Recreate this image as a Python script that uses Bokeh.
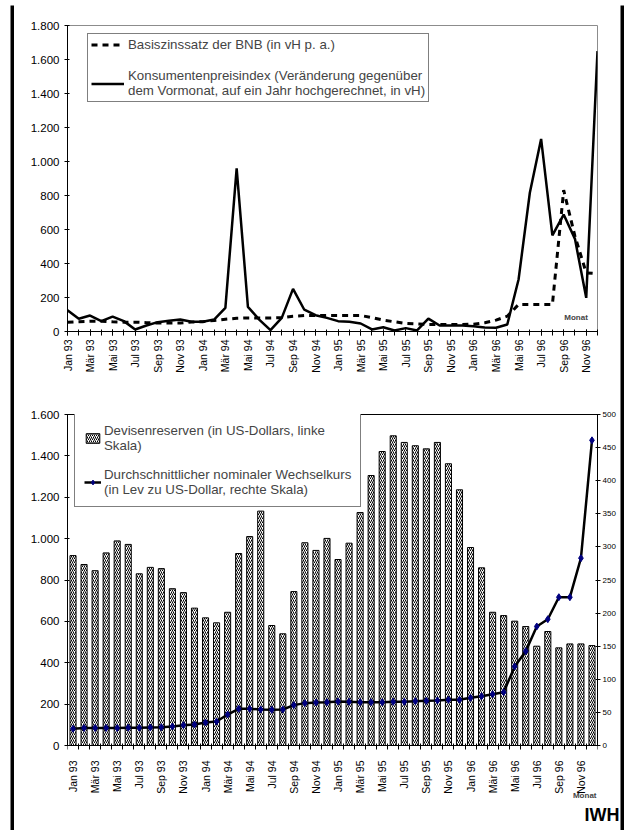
from math import pi
from bokeh.plotting import figure
from bokeh.models import (FixedTicker, Range1d, LinearAxis, Legend, LegendItem, Label, Spacer, Title)
from bokeh.layouts import column, row
from bokeh.embed import file_html
from bokeh.resources import INLINE

# ---------------- data ----------------
months = ["Jan", "Feb", "Mär", "Apr", "Mai", "Jun", "Jul", "Aug", "Sep", "Okt", "Nov", "Dez"]
years = ["93", "94", "95", "96"]
month_labels = [f"{m} {y}" for y in years for m in months]

# upper chart (vH)
bnb_rate = [55, 58, 60, 60, 57, 55, 55, 52, 50, 50, 50, 56,
            58, 65, 72, 78, 80, 80, 80, 82, 90, 94, 94, 94,
            94, 94, 94, 82, 67, 57, 47, 44, 41, 41, 41, 41,
            43, 51, 67, 90, 159, 159, 159, 159, 831, 561, 345, 340]
cpi_rate = [125, 75, 94, 61, 88, 61, 12, 35, 55, 63, 70, 57,
            57, 70, 139, 960, 145, 70, 8, 80, 251, 128, 96, 80,
            61, 57, 47, 12, 25, 6, 20, 6, 76, 35, 35, 35,
            31, 24, 22, 41, 306, 816, 1133, 565, 688, 545, 198, 1649]

# lower chart
reserves = [918, 875, 845, 931, 989, 972, 830, 861, 855, 758, 739, 664,
            617, 593, 644, 928, 1010, 1133, 580, 540, 744, 980, 943, 1001,
            899, 978, 1126, 1305, 1421, 1497, 1465, 1449, 1434, 1465, 1362, 1236,
            957, 859, 644, 628, 601, 575, 480, 551, 472, 491, 491, 483]
exchange_rate = [25.2, 26.5, 26.5, 26.5, 26.5, 26.8, 26.8, 27.3, 27.7, 28.7, 30.7, 31.7,
                 34.7, 36.2, 46.8, 55.4, 55.4, 54.4, 53.9, 54.4, 61.0, 64.0, 65.0, 65.4,
                 66.5, 66.0, 65.4, 65.4, 65.4, 66.0, 66.0, 67.0, 67.5, 68.0, 69.0, 69.0,
                 72.0, 74.5, 77.5, 80.5, 119.3, 142.5, 179.8, 190.8, 224.0, 224.0, 283.0, 461.0]

top_y_ticks = list(range(0, 1801, 200))
bottom_left_ticks = list(range(0, 1601, 200))
bottom_right_ticks = list(range(0, 501, 50))

label_bnb = "Basiszinssatz der BNB (in vH p. a.)"
label_cpi = "Konsumentenpreisindex (Veränderung gegenüber\ndem Vormonat, auf ein Jahr hochgerechnet, in vH)"
label_res = "Devisenreserven (in US-Dollars, linke\nSkala)"
label_ex = "Durchschnittlicher nominaler Wechselkurs\n(in Lev zu US-Dollar, rechte Skala)"

# ---------------- layout constants ----------------
FONT = "Liberation Sans"
W = 606          # inner width of the framed area
H1 = 366         # upper figure height
H2 = 455         # lower figure height
B = 4            # frame thickness
n = len(month_labels)
idx = list(range(n))

# lower chart: the plot frame reaches below the x axis (axis is pinned at 0)
F2_H, VAL_H_PX = 386, 331
y2_start = -bottom_left_ticks[-1] * (F2_H - VAL_H_PX) / VAL_H_PX
r2_start = -bottom_right_ticks[-1] * (F2_H - VAL_H_PX) / VAL_H_PX


def de_num(v):
    return f"{v:,}".replace(",", ".")


def style_common(p):
    p.xgrid.visible = False
    p.ygrid.visible = False
    p.background_fill_color = "white"
    p.border_fill_color = "white"


def style_axis(ax, font_size="11px"):
    ax.axis_line_color = "black"
    ax.axis_line_width = 1
    ax.major_tick_line_color = "black"
    ax.minor_tick_line_color = "black"
    ax.major_label_text_font = FONT
    ax.major_label_text_font_size = font_size
    ax.major_label_text_color = "black"


def style_legend(leg):
    leg.label_text_font = FONT
    leg.label_text_font_size = "13.3px"
    leg.border_line_color = "black"
    leg.border_line_width = 1
    leg.background_fill_color = "white"
    leg.background_fill_alpha = 1
    leg.margin = 0


def frame_bar(w, h):
    f = figure(width=w, height=h, toolbar_location=None, output_backend="svg",
               x_axis_type=None, y_axis_type=None, min_border=0)
    f.background_fill_color = "black"
    f.border_fill_color = "black"
    f.outline_line_color = None
    return f


# ---------------- upper chart ----------------
p1 = figure(width=W, height=H1, x_range=Range1d(0, n - 1), y_range=Range1d(0, 1800),
            output_backend="svg", toolbar_location=None,
            min_border_left=44, min_border_right=20, min_border_top=16, min_border_bottom=43)
style_common(p1)
p1.outline_line_color = "#8c8c8c"
p1.outline_line_width = 1

r_bnb = p1.line(idx, bnb_rate, line_color="black", line_width=3, line_dash="6 5")
r_cpi = p1.line(idx, cpi_rate, line_color="black", line_width=2.5)

xa = p1.xaxis[0]
xa.ticker = FixedTicker(ticks=idx[::2], minor_ticks=idx)
xa.major_label_overrides = {i: month_labels[i] for i in idx[::2]}
xa.major_label_orientation = pi / 2
xa.major_tick_in = 2
xa.major_tick_out = 4
xa.minor_tick_in = 2
xa.minor_tick_out = 4
xa.major_label_standoff = 4
style_axis(xa, "10.5px")

ya = p1.yaxis[0]
ya.ticker = FixedTicker(ticks=top_y_ticks)
ya.major_label_overrides = {t: de_num(t) for t in top_y_ticks}
ya.major_tick_in = 2
ya.major_tick_out = 3
ya.major_label_standoff = 5
style_axis(ya, "11.5px")

leg1 = Legend(items=[LegendItem(label=label_bnb, renderers=[r_bnb]),
                     LegendItem(label=label_cpi, renderers=[r_cpi])],
              location=(20, 229))
style_legend(leg1)
leg1.padding = 3
leg1.spacing = 16
leg1.glyph_width = 33
leg1.glyph_height = 13
leg1.label_height = 13
leg1.label_standoff = 4
p1.add_layout(leg1)

p1.add_layout(Label(x=45.1, y=82, text="Monat", text_font=FONT, text_font_size="8px",
                    text_font_style="bold", text_align="center", text_baseline="middle"))

# ---------------- lower chart ----------------
p2 = figure(width=W, height=H2, x_range=Range1d(0, n), y_range=Range1d(y2_start, bottom_left_ticks[-1]),
            output_backend="svg", toolbar_location=None,
            min_border_left=53, min_border_right=23, min_border_top=39, min_border_bottom=30)
style_common(p2)
p2.outline_line_color = None
p2.extra_y_ranges = {"rate": Range1d(r2_start, bottom_right_ticks[-1])}

centers = [i + 0.5 for i in idx]
r_res = p2.vbar(x=centers, top=reserves, width=0.55, fill_color="white", line_color="black",
                line_width=1, hatch_pattern="/", hatch_color="black", hatch_scale=4, hatch_weight=1)
r_ex_line = p2.line(centers, exchange_rate, y_range_name="rate", line_color="black", line_width=2.5)
r_ex_pts = p2.scatter(centers, exchange_rate, y_range_name="rate", marker="diamond", size=7,
                      fill_color="#000080", line_color="#000080")

xb = p2.xaxis[0]
xb.fixed_location = 0
xb.bounds = (0, n)
xb.ticker = FixedTicker(ticks=centers[::2], minor_ticks=list(range(n + 1)))
xb.major_label_overrides = {centers[i]: month_labels[i] for i in idx[::2]}
xb.major_label_orientation = pi / 2
xb.major_tick_in = 0
xb.major_tick_out = 0
xb.minor_tick_in = 2
xb.minor_tick_out = 4
xb.major_label_standoff = 11
style_axis(xb, "10.5px")

yb = p2.yaxis[0]
yb.bounds = (0, bottom_left_ticks[-1])
yb.ticker = FixedTicker(ticks=bottom_left_ticks)
yb.major_label_overrides = {t: de_num(t) for t in bottom_left_ticks}
yb.major_tick_in = 2
yb.major_tick_out = 3
yb.major_label_standoff = 5
style_axis(yb, "11.5px")

yr = LinearAxis(y_range_name="rate", ticker=FixedTicker(ticks=bottom_right_ticks),
                bounds=(0, bottom_right_ticks[-1]))
yr.major_tick_in = 2
yr.major_tick_out = 3
yr.major_label_standoff = 2
style_axis(yr, "8px")
p2.add_layout(yr, "right")

top_line = LinearAxis(ticker=FixedTicker(ticks=[]), bounds=(0, n))
top_line.major_tick_in = 0
top_line.major_tick_out = 0
top_line.minor_tick_in = 0
top_line.minor_tick_out = 0
top_line.major_label_text_font_size = "0px"
top_line.axis_line_color = "black"
p2.add_layout(top_line, "above")

leg2 = Legend(items=[LegendItem(label=label_res, renderers=[r_res]),
                     LegendItem(label=label_ex, renderers=[r_ex_line, r_ex_pts])],
              location=(7, 293))
style_legend(leg2)
leg2.padding = 9
leg2.spacing = 14
leg2.glyph_width = 17
leg2.glyph_height = 12
leg2.label_height = 12
leg2.label_standoff = 3
p2.add_layout(leg2)

p2.add_layout(Label(x=n, y=-242, x_offset=-1, text="Monat", text_font=FONT, text_font_size="8px",
                    text_font_style="bold", text_align="right", text_baseline="middle"))
p2.add_layout(Title(text="IWH", align="right", offset=-22, standoff=4, text_font=FONT,
                    text_font_size="18px", text_font_style="bold", text_color="black"), "below")

# ---------------- frame ----------------
inner = column(frame_bar(W, B), p1, p2)
framed = row(Spacer(width=10, height=B + H1 + H2), frame_bar(B, B + H1 + H2), inner,
             frame_bar(B, B + H1 + H2))
layout = column(Spacer(width=10 + 2 * B + W, height=5), framed)

open("out.html", "w").write(file_html(layout, INLINE))
